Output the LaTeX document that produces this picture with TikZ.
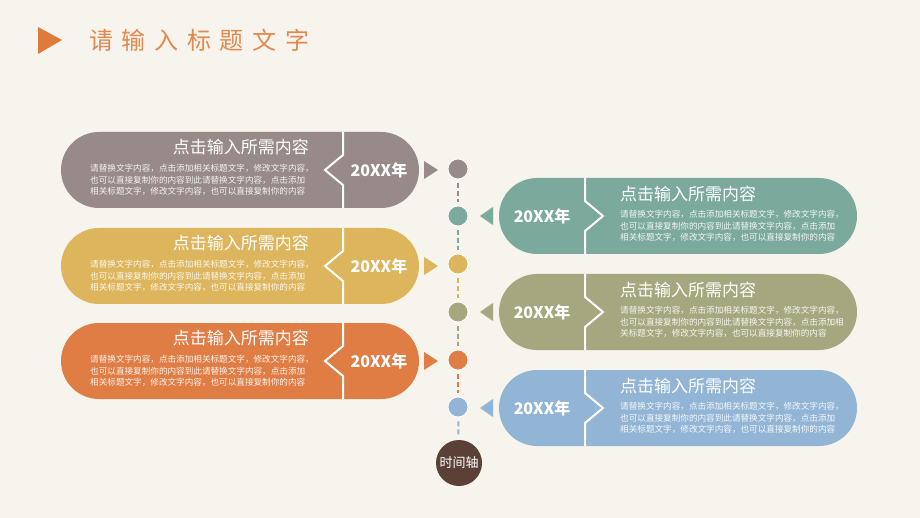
\documentclass[tikz,border=0pt]{standalone}
\usepackage{fontspec}
\newfontfamily\cjk{Noto Sans CJK SC}
\usetikzlibrary{shapes.misc}

\definecolor{paper}{HTML}{F6F4EC}
\definecolor{ttitle}{HTML}{E3884F}
\definecolor{tmark}{HTML}{DF7A3A}
\definecolor{tgray}{HTML}{978A88}
\definecolor{tyellow}{HTML}{DDB55C}
\definecolor{torange}{HTML}{E07D45}
\definecolor{tteal}{HTML}{7BA99B}
\definecolor{tolive}{HTML}{A5A87F}
\definecolor{tblue}{HTML}{93B5D5}
\definecolor{tbrown}{HTML}{5B4038}

\tikzset{
	capsule/.style={rounded rectangle, minimum width=358pt, minimum height=76pt, inner sep=0pt, fill=#1},
	tdot/.style={circle, minimum size=20pt, inner sep=0pt, fill=#1, draw=white, line width=0.8pt},
	timedash/.style={draw=#1, line width=2pt, dash pattern=on 5pt off 3pt, shorten <=4pt, shorten >=4pt},
	divider/.style={draw=white, line width=2pt},
	headtext/.style={text=white, font=\cjk\fontsize{17}{20}\selectfont, inner sep=0pt},
	bodytext/.style={text=white, text opacity=0.9, font=\cjk\fontsize{8.6}{11.6}\selectfont, align=left, inner sep=0pt},
	yeartext/.style={text=white, font=\cjk\bfseries\fontsize{16}{18}\selectfont, inner sep=0pt},
}

\begin{document}
\begin{tikzpicture}[x=1pt, y=-1pt]
	\useasboundingbox (0,0) rectangle (920,518);
	\fill[paper] (0,0) rectangle (920,518);

	% title
	\fill[tmark] (38,27) -- (62,40) -- (38,54) -- cycle;
	\node[anchor=west, inner sep=0pt, text=ttitle, font=\cjk\fontsize{24}{26}\selectfont\addfontfeatures{LetterSpace=36}] (title) at (89,40) {请输入标题文字};

	% capsules, left side
	\node[capsule=tgray]   (L1) at (240,170) {};
	\node[capsule=tyellow] (L2) at (240,266) {};
	\node[capsule=torange] (L3) at (240,361) {};
	\draw[divider] (343,132) -- (343,155) -- (325,170) -- (343,185) -- (343,208);
	\draw[divider] (343,228) -- (343,251) -- (325,266) -- (343,281) -- (343,304);
	\draw[divider] (343,323) -- (343,346) -- (325,361) -- (343,376) -- (343,399);

	% capsules, right side
	\node[capsule=tteal]  (R1) at (678,216) {};
	\node[capsule=tolive] (R2) at (678,312) {};
	\node[capsule=tblue]  (R3) at (678,408) {};
	\draw[divider] (585,178) -- (585,201) -- (603,216) -- (585,231) -- (585,254);
	\draw[divider] (585,274) -- (585,297) -- (603,312) -- (585,327) -- (585,350);
	\draw[divider] (585,370) -- (585,393) -- (603,408) -- (585,423) -- (585,446);

	% years
	\node[yeartext] (yL1) at (379,170) {20XX年};
	\node[yeartext] (yL2) at (379,266) {20XX年};
	\node[yeartext] (yL3) at (379,361) {20XX年};
	\node[yeartext] (yR1) at (542,216) {20XX年};
	\node[yeartext] (yR2) at (542,312) {20XX年};
	\node[yeartext] (yR3) at (542,408) {20XX年};

	% headings
	\node[headtext, anchor=east] (hL1) at (309,147) {点击输入所需内容};
	\node[headtext, anchor=east] (hL2) at (309,243) {点击输入所需内容};
	\node[headtext, anchor=east] (hL3) at (309,338) {点击输入所需内容};
	\node[headtext, anchor=west] (hR1) at (620,194) {点击输入所需内容};
	\node[headtext, anchor=west] (hR2) at (620,290) {点击输入所需内容};
	\node[headtext, anchor=west] (hR3) at (620,386) {点击输入所需内容};

	% body texts
	\node[bodytext, anchor=north west] (bL1) at (90,164) {请替换文字内容，点击添加相关标题文字，修改文字内容，\\也可以直接复制你的内容到此请替换文字内容，点击添加\\相关标题文字，修改文字内容，也可以直接复制你的内容};
	\node[bodytext, anchor=north west] (bL2) at (90,260) {请替换文字内容，点击添加相关标题文字，修改文字内容，\\也可以直接复制你的内容到此请替换文字内容，点击添加\\相关标题文字，修改文字内容，也可以直接复制你的内容};
	\node[bodytext, anchor=north west] (bL3) at (90,355) {请替换文字内容，点击添加相关标题文字，修改文字内容，\\也可以直接复制你的内容到此请替换文字内容，点击添加\\相关标题文字，修改文字内容，也可以直接复制你的内容};
	\node[bodytext, anchor=north west] (bR1) at (620,210) {请替换文字内容，点击添加相关标题文字，修改文字内容，\\也可以直接复制你的内容到此请替换文字内容，点击添加\\相关标题文字，修改文字内容，也可以直接复制你的内容};
	\node[bodytext, anchor=north west] (bR2) at (620,306) {请替换文字内容，点击添加相关标题文字，修改文字内容，\\也可以直接复制你的内容到此请替换文字内容，点击添加相\\关标题文字，修改文字内容，也可以直接复制你的内容};
	\node[bodytext, anchor=north west] (bR3) at (620,402) {请替换文字内容，点击添加相关标题文字，修改文字内容，\\也可以直接复制你的内容到此请替换文字内容，点击添加\\相关标题文字，修改文字内容，也可以直接复制你的内容};

	% pointers
	\fill[tgray]   (424,161) -- (438,170) -- (424,179) -- cycle;
	\fill[tyellow] (424,257) -- (438,266) -- (424,275) -- cycle;
	\fill[torange] (424,352) -- (438,361) -- (424,370) -- cycle;
	\fill[tteal]   (493,207) -- (480,216) -- (493,225) -- cycle;
	\fill[tolive]  (493,303) -- (480,312) -- (493,321) -- cycle;
	\fill[tblue]   (493,399) -- (480,408) -- (493,417) -- cycle;

	% time axis
	\node[tdot=tgray]   (t1) at (458,169) {};
	\node[tdot=tteal]   (t2) at (458,216) {};
	\node[tdot=tyellow] (t3) at (458,264) {};
	\node[tdot=tolive]  (t4) at (458,312) {};
	\node[tdot=torange] (t5) at (458,360) {};
	\node[tdot=tblue]   (t6) at (458,407) {};
	\node[circle, minimum size=46pt, inner sep=0pt, fill=tbrown, text=white, font=\cjk\fontsize{13}{15}\selectfont] (axis) at (459,463) {时间轴};

	\draw[timedash=tgray]   (t1) -- (t2);
	\draw[timedash=tteal]   (t2) -- (t3);
	\draw[timedash=tyellow] (t3) -- (t4);
	\draw[timedash=tolive]  (t4) -- (t5);
	\draw[timedash=torange] (t5) -- (t6);
	\draw[timedash=tblue]   (t6) -- (axis);
\end{tikzpicture}
\end{document}
